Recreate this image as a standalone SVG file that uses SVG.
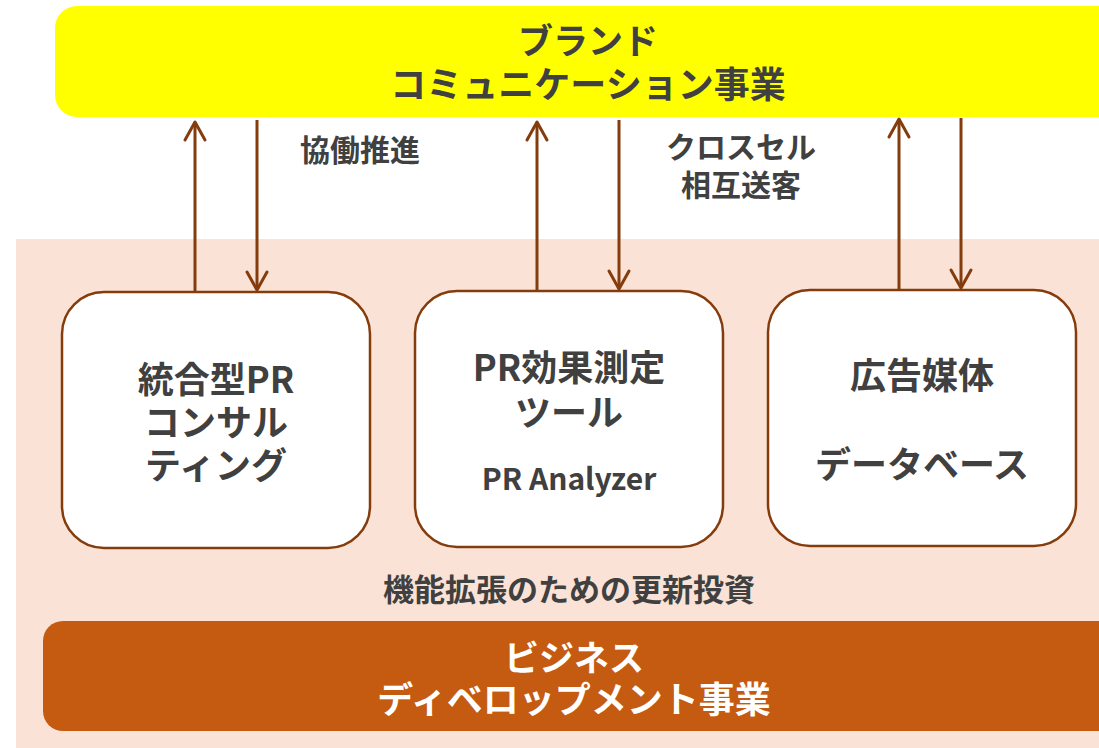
<svg xmlns="http://www.w3.org/2000/svg" width="1099" height="748" viewBox="0 0 1099 748">
<defs>
<style>
.t{font-family:"Noto Sans CJK JP","Noto Sans",sans-serif;font-weight:bold;fill:#404040;text-anchor:middle;dominant-baseline:central}
.w{fill:#ffffff}
.box{fill:#ffffff;stroke:#843C0C;stroke-width:2.5}
.ar{stroke:#843C0C;stroke-width:3;fill:none;marker-end:url(#chev)}
</style>
<marker id="chev" markerUnits="userSpaceOnUse" viewBox="-20 -12 22 24" refX="0" refY="0" markerWidth="22" markerHeight="24" orient="auto" overflow="visible">
<path d="M-18,-10 L0,0 L-18,10" fill="none" stroke="#843C0C" stroke-width="3" stroke-linejoin="round" stroke-linecap="round"/>
</marker>
</defs>
<rect x="0" y="0" width="1099" height="748" fill="#ffffff"/>
<rect id="bg" x="16" y="239" width="1100" height="520" fill="#FAE3D6"/>
<g id="brand">
<rect x="55" y="6" width="1080" height="111" rx="22" fill="#FFFF00"/>
<text class="t" x="588" y="38" font-size="35">ブランド</text>
<text class="t" x="588" y="82" font-size="36">コミュニケーション事業</text>
</g>
<g id="connectors">
<line class="ar" x1="195" y1="292" x2="195" y2="122"/>
<line class="ar" x1="257" y1="120" x2="257" y2="290"/>
<line class="ar" x1="537" y1="291" x2="537" y2="122"/>
<line class="ar" x1="619" y1="120" x2="619" y2="289"/>
<line class="ar" x1="899" y1="290" x2="899" y2="119"/>
<line class="ar" x1="961" y1="118" x2="961" y2="288"/>
</g>
<g id="labels">
<text class="t" x="360" y="148" font-size="30">協働推進</text>
<text class="t" x="741" y="145" font-size="30">クロスセル</text>
<text class="t" x="741" y="183" font-size="30">相互送客</text>
<text class="t" x="569" y="587" font-size="31">機能拡張のための更新投資</text>
</g>
<g id="node1">
<rect class="box" x="62" y="292" width="308" height="256" rx="42"/>
<text class="t" x="216" y="377" font-size="36">統合型PR</text>
<text class="t" x="216" y="420" font-size="36">コンサル</text>
<text class="t" x="216" y="463" font-size="36">ティング</text>
</g>
<g id="node2">
<rect class="box" x="415" y="291" width="308" height="256" rx="42"/>
<text class="t" x="569" y="365" font-size="36">PR効果測定</text>
<text class="t" x="569" y="410" font-size="36">ツール</text>
<text class="t" x="569" y="477" font-size="30">PR Analyzer</text>
</g>
<g id="node3">
<rect class="box" x="768" y="290" width="308" height="256" rx="42"/>
<text class="t" x="922" y="373" font-size="36">広告媒体</text>
<text class="t" x="922" y="462" font-size="36">データベース</text>
</g>
<g id="bizdev">
<rect x="43" y="621" width="1080" height="110" rx="20" fill="#C55A11"/>
<text class="t w" x="574" y="655" font-size="35">ビジネス</text>
<text class="t w" x="574" y="697" font-size="36">ディベロップメント事業</text>
</g>
</svg>
